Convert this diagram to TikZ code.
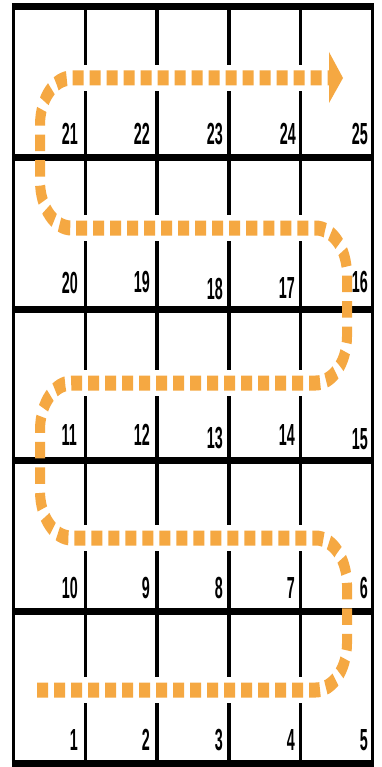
\documentclass[tikz,border=0pt]{standalone}
\usepackage{fontspec}
\setmainfont{Liberation Sans}
\definecolor{pathorange}{RGB}{245,168,66}
\begin{document}
\begin{tikzpicture}[x=1pt,y=-1pt,
  vline/.style={line width=3.5pt,black},
  hline/.style={line width=7pt,black},
  numlabel/.style={anchor=base east,inner sep=0pt,font=\fontsize{30.5}{30.5}\selectfont\bfseries},
  trail/.style={line width=15pt,pathorange,dash pattern=on 16.5pt off 9pt,rounded corners=47pt},
  halo/.style={line width=26pt,white}]
\useasboundingbox (0,0) rectangle (381,767);
\fill[white] (0,0) rectangle (381,767);
% grid
\foreach \x in {13.5,85.3,157.1,228.9,300.7,372.5} \draw[vline] (\x,6.5) -- (\x,763);
\foreach \y in {6.5,157.8,309.1,460.4,611.7,763} \draw[hline] (11.75,\y) -- (374.25,\y);
% trail
\begin{scope}[x=1.5pt,y=-1pt,transform canvas={xscale=0.6667}]
  \foreach \y/\a/\b in {690/37/315,538/72/315,383/72/315,228/72/315,78/72/329}
    \draw[halo] (\a,\y) -- (\b,\y);
  \coordinate (p0) at (37,690);
  \coordinate (p1) at (347,690);
  \coordinate (p2) at (347,538);
  \coordinate (p3) at (40,538);
  \coordinate (p4) at (40,383);
  \coordinate (p5) at (347,383);
  \coordinate (p6) at (347,228);
  \coordinate (p7) at (40,228);
  \coordinate (p8) at (40,78);
  \coordinate (p9) at (329,78);
  \draw[trail] (p0) -- (p1) -- (p2) -- (p3) -- (p4) -- (p5) -- (p6) -- (p7) -- (p8) -- (p9);
\end{scope}
\fill[pathorange] (329,52) -- (343,78) -- (329,103) -- cycle;
% labels
\node[numlabel] (n21) at (78,145) {\scalebox{0.47}[1]{21}};
\node[numlabel] (n22) at (150,145) {\scalebox{0.47}[1]{22}};
\node[numlabel] (n23) at (223,145) {\scalebox{0.47}[1]{23}};
\node[numlabel] (n24) at (296,145) {\scalebox{0.47}[1]{24}};
\node[numlabel] (n25) at (368,145) {\scalebox{0.47}[1]{25}};
\node[numlabel] (n20) at (78,293) {\scalebox{0.47}[1]{20}};
\node[numlabel] (n19) at (150,292) {\scalebox{0.47}[1]{19}};
\node[numlabel] (n18) at (223,299) {\scalebox{0.47}[1]{18}};
\node[numlabel] (n17) at (295,298) {\scalebox{0.47}[1]{17}};
\node[numlabel] (n16) at (368,292) {\scalebox{0.47}[1]{16}};
\node[numlabel] (n11) at (77,445) {\scalebox{0.47}[1]{11}};
\node[numlabel] (n12) at (150,445) {\scalebox{0.47}[1]{12}};
\node[numlabel] (n13) at (223,448) {\scalebox{0.47}[1]{13}};
\node[numlabel] (n14) at (295,445) {\scalebox{0.47}[1]{14}};
\node[numlabel] (n15) at (368,449) {\scalebox{0.47}[1]{15}};
\node[numlabel] (n10) at (78,598) {\scalebox{0.47}[1]{10}};
\node[numlabel] (n9) at (150,598) {\scalebox{0.47}[1]{9}};
\node[numlabel] (n8) at (223,598) {\scalebox{0.47}[1]{8}};
\node[numlabel] (n7) at (295,598) {\scalebox{0.47}[1]{7}};
\node[numlabel] (n6) at (368,598) {\scalebox{0.47}[1]{6}};
\node[numlabel] (n1) at (78,750) {\scalebox{0.47}[1]{1}};
\node[numlabel] (n2) at (150,750) {\scalebox{0.47}[1]{2}};
\node[numlabel] (n3) at (223,750) {\scalebox{0.47}[1]{3}};
\node[numlabel] (n4) at (295,750) {\scalebox{0.47}[1]{4}};
\node[numlabel] (n5) at (368,750) {\scalebox{0.47}[1]{5}};
\end{tikzpicture}
\end{document}
